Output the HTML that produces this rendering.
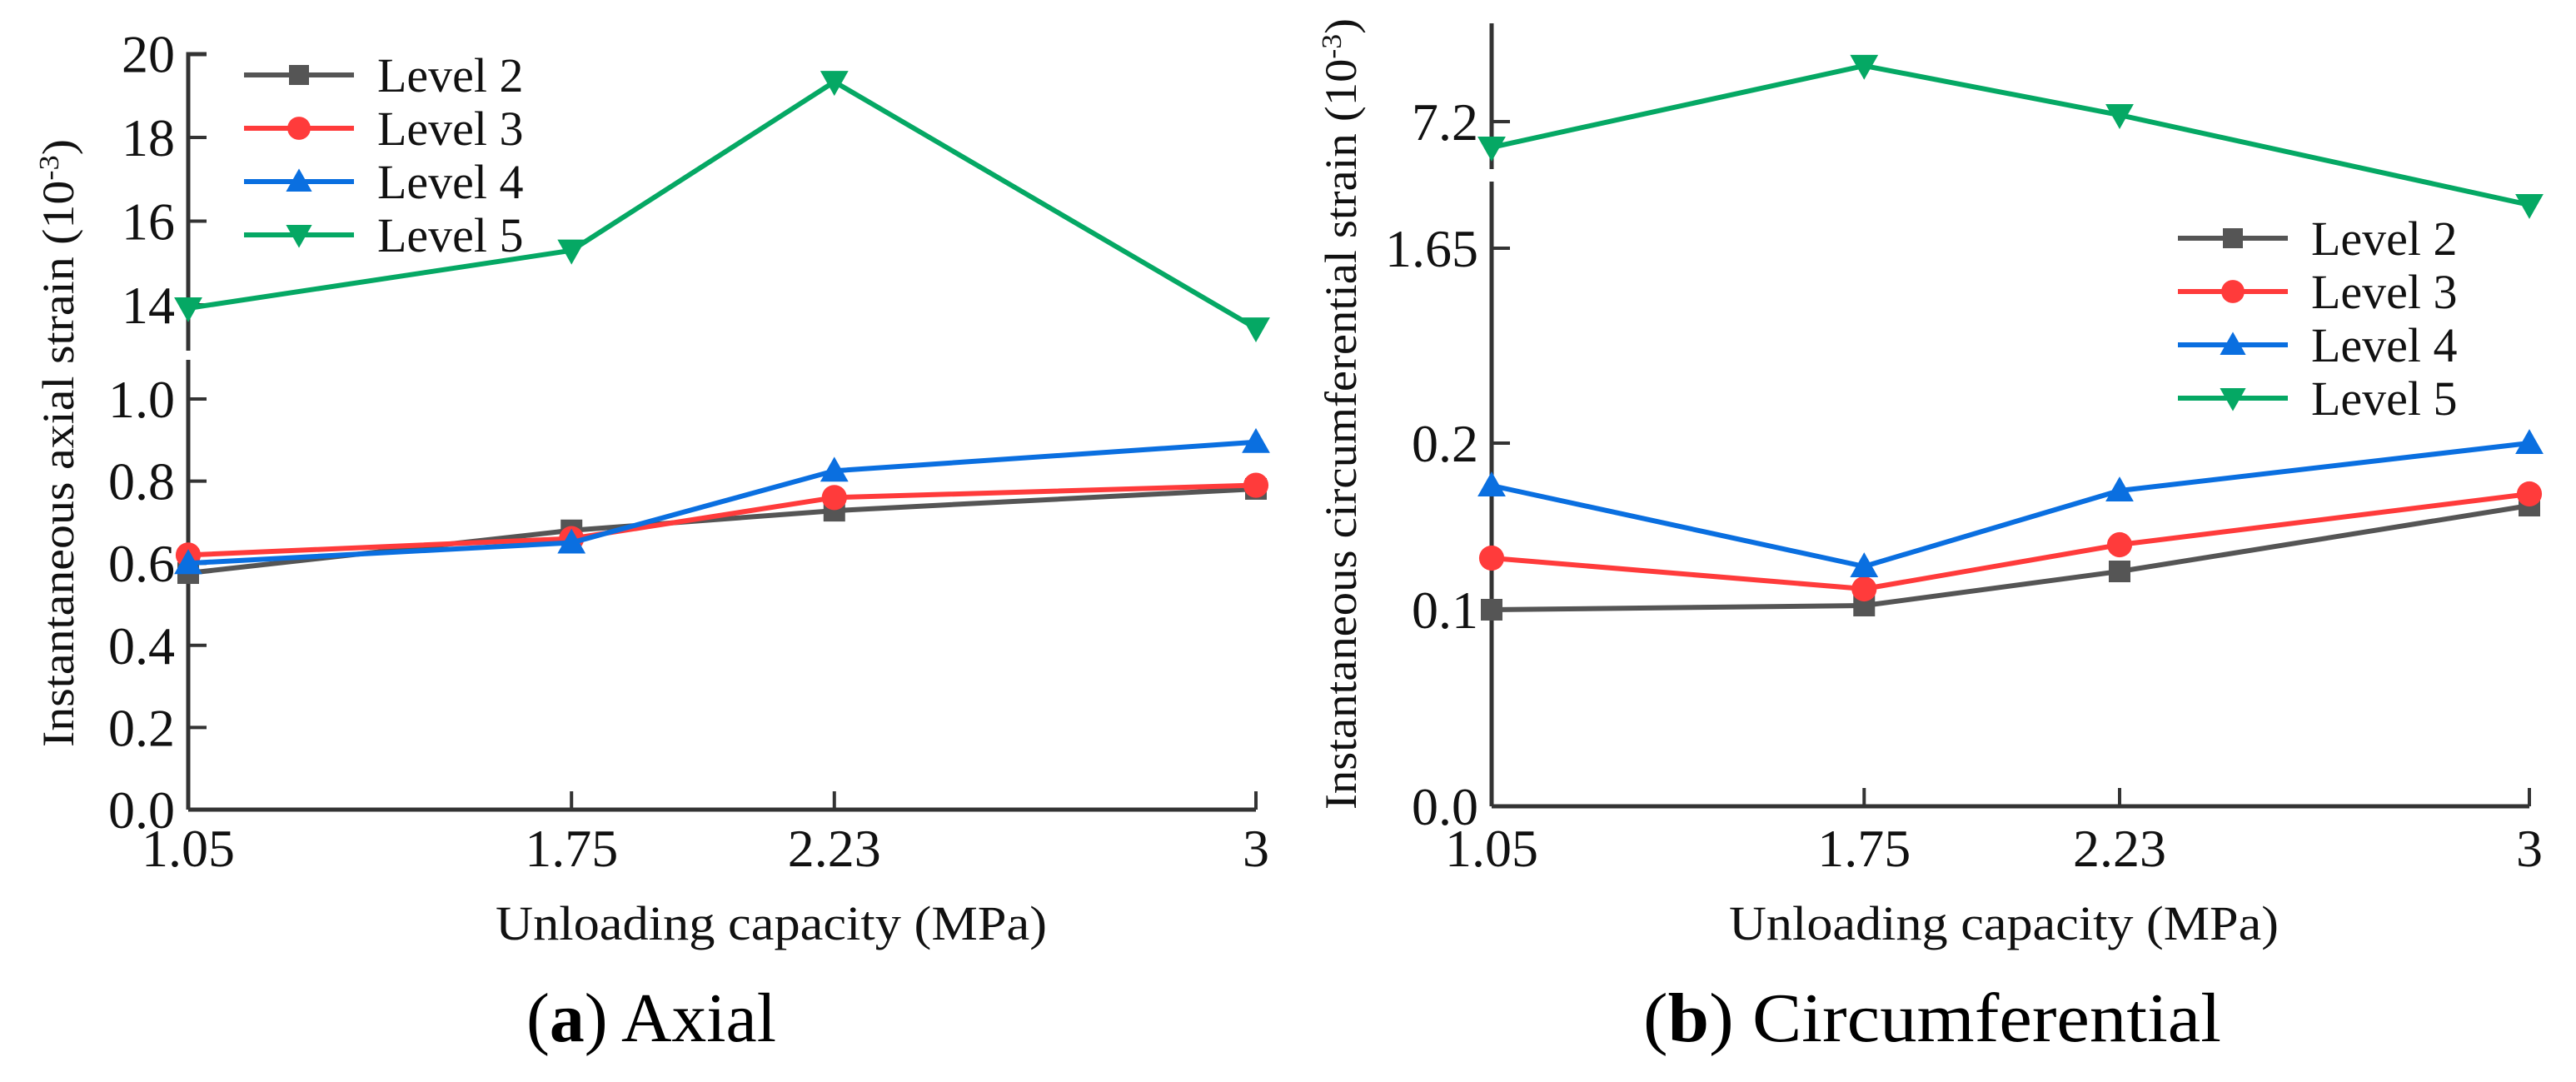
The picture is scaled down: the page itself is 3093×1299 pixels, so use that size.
<!DOCTYPE html>
<html><head><meta charset="utf-8"><style>
html,body{margin:0;padding:0;background:#fff;}
svg{display:block;font-family:"Liberation Serif",serif;}
text{font-family:"Liberation Serif",serif;}
</style></head><body>
<svg id="fig" width="3093" height="1299" viewBox="0 0 3093 1299" xmlns="http://www.w3.org/2000/svg">
<g id="chartA"></g>
<g id="chartB"></g>
<text x="782" y="1250" font-size="84" text-anchor="middle" textLength="300" lengthAdjust="spacingAndGlyphs">(<tspan font-weight="bold">a</tspan>) Axial</text>
<text x="2320" y="1250" font-size="84" text-anchor="middle" textLength="694" lengthAdjust="spacingAndGlyphs">(<tspan font-weight="bold">b</tspan>) Circumferential</text>
</svg>
<script>
const xCats = [1.05, 1.75, 2.23, 3];
const xTickLabels = ["1.05", "1.75", "2.23", "3"];
const seriesNames = ["Level 2", "Level 3", "Level 4", "Level 5"];
// Axial (a)
const axialL2 = [0.576, 0.68, 0.728, 0.781];
const axialL3 = [0.62, 0.66, 0.76, 0.79];
const axialL4 = [0.60, 0.65, 0.825, 0.895];
const axialL5 = [13.92, 15.3, 19.33, 13.44];
const axialTicks = [0.0, 0.2, 0.4, 0.6, 0.8, 1.0, 14, 16, 18, 20];
const axialTickLabels = ["0.0","0.2","0.4","0.6","0.8","1.0","14","16","18","20"];
// Circumferential (b)
const circL2 = [0.1, 0.1025, 0.123, 0.1625];
const circL3 = [0.131, 0.1125, 0.139, 0.1695];
const circL4 = [0.1745, 0.126, 0.1715, 0.2];
const circL5 = [6.07, 9.65, 7.49, 3.55];
const circTicks = [0.0, 0.1, 0.2, 1.65, 7.2];
const circTickLabels = ["0.0","0.1","0.2","1.65","7.2"];

const colors = ["#555555", "#ff3b3b", "#0a6fe0", "#05a864"];
const markers = ["square", "circle", "up", "down"];
const NS = "http://www.w3.org/2000/svg";
function mk(parent, tag, attrs) {
  const e = document.createElementNS(NS, tag);
  for (const k in attrs) e.setAttribute(k, attrs[k]);
  parent.appendChild(e);
  return e;
}
function xA(v) { return 226 + (v - 1.05) * (1508 - 226) / (3 - 1.05); }
function yA(v) {
  if (v <= 1.0) return 972 - v * 493;
  return 366 - (v - 14) * 50.25;
}
function xB(v) { return 1791 + (v - 1.05) * (3037 - 1791) / (3 - 1.05); }
const bKnots = [[0, 968], [0.1, 732], [0.2, 532], [1.65, 298], [7.2, 146]];
function yB(v) {
  for (let i = 0; i < bKnots.length - 1; i++) {
    const a = bKnots[i], b = bKnots[i + 1];
    if (v <= b[0] || i === bKnots.length - 2) return a[1] + (v - a[0]) * (b[1] - a[1]) / (b[0] - a[0]);
  }
}
function marker(g, type, cx, cy, color, s) {
  let el;
  if (type === "square") el = mk(g, "rect", {x: cx - s/2, y: cy - s/2, width: s, height: s, fill: color});
  else if (type === "circle") el = mk(g, "circle", {cx: cx, cy: cy, r: s*0.58, fill: color});
  else if (type === "up") el = mk(g, "polygon", {points: `${cx},${cy - s*0.65} ${cx - s*0.65},${cy + s*0.5} ${cx + s*0.65},${cy + s*0.5}`, fill: color});
  else el = mk(g, "polygon", {points: `${cx},${cy + s*0.65} ${cx - s*0.65},${cy - s*0.5} ${cx + s*0.65},${cy - s*0.5}`, fill: color});
  return el;
}
function drawChart(g, X, Y, series, ticks, tickLabels, cfg) {
  const axC = "#333";
  const ya = mk(g, "path", {d: cfg.yAxisPath, stroke: axC, "stroke-width": 5, fill: "none"});
  
  
  const xa = mk(g, "line", {x1: cfg.x0, y1: cfg.y0, x2: cfg.x1, y2: cfg.y0, stroke: axC, "stroke-width": 5});
  
  
  ticks.forEach((t, i) => {
    const y = Y(t);
    if (i > 0) mk(g, "line", {x1: cfg.x0, y1: y, x2: cfg.x0 + 22, y2: y, stroke: axC, "stroke-width": 4});
    const tx = mk(g, "text", {x: cfg.x0 - 16, y: y + 22, "font-size": 64, "text-anchor": "end", fill: "#111"});
    tx.textContent = tickLabels[i];
    
    
  });
  xCats.forEach((c, i) => {
    const x = X(c);
    if (i > 0) mk(g, "line", {x1: x, y1: cfg.y0, x2: x, y2: cfg.y0 - 22, stroke: axC, "stroke-width": 4});
    const tx = mk(g, "text", {x: x, y: 1040, "font-size": 64, "text-anchor": "middle", fill: "#111"});
    tx.textContent = xTickLabels[i];
    
    
  });
  series.forEach((vals, si) => {
    const sg = mk(g, "g", {});
    
    
    const pts = vals.map((v, i) => X(xCats[i]) + "," + Y(v)).join(" ");
    mk(sg, "polyline", {points: pts, fill: "none", stroke: colors[si], "stroke-width": 6, "stroke-linejoin": "round"});
    vals.forEach((v, i) => {
      const m = marker(sg, markers[si], X(xCats[i]), Y(v), colors[si], 26);
      
      
    });
  });
  const lg = mk(g, "g", {});
  
  
  seriesNames.forEach((n, i) => {
    const y = cfg.legY + i * cfg.legStep;
    const eg = mk(lg, "g", {});
    
    
    mk(eg, "line", {x1: cfg.legX, y1: y, x2: cfg.legX + 132, y2: y, stroke: colors[i], "stroke-width": 6});
    marker(eg, markers[i], cfg.legX + 66, y, colors[i], 24);
    const t = mk(eg, "text", {x: cfg.legX + 160, y: y + 20, "font-size": 58, fill: "#111"});
    t.textContent = n;
  });
  const xt = mk(g, "text", {x: cfg.xTitleX, y: 1128, "font-size": 58, "text-anchor": "middle", fill: "#111", textLength: cfg.xTitleW, lengthAdjust: "spacingAndGlyphs"});
  xt.textContent = "Unloading capacity (MPa)";
  
  
  const yt = mk(g, "text", {x: 0, y: 0, "font-size": 54, "text-anchor": "middle", fill: "#111", transform: `translate(${cfg.yTitleX},${cfg.yTitleY}) rotate(-90)`, textLength: cfg.yTitleW, lengthAdjust: "spacingAndGlyphs"});
  yt.innerHTML = cfg.yTitle + ' (10<tspan dy="-18" font-size="34">-3</tspan><tspan dy="18">)</tspan>';
  
  
}
drawChart(document.getElementById("chartA"), xA, yA, [axialL2, axialL3, axialL4, axialL5], axialTicks, axialTickLabels, {
  x0: 226, x1: 1508, y0: 972,
  yAxisPath: "M226,972 L226,432 M226,421 L226,65 L248,65",
  legX: 293, legY: 90, legStep: 64,
  xTitleX: 926, xTitleW: 662,
  yTitleX: 88, yTitleY: 532, yTitleW: 730, yTitle: "Instantaneous axial strain"
});
drawChart(document.getElementById("chartB"), xB, yB, [circL2, circL3, circL4, circL5], circTicks, circTickLabels, {
  x0: 1791, x1: 3037, y0: 968,
  yAxisPath: "M1791,968 L1791,218 M1791,203 L1791,28",
  legX: 2615, legY: 286, legStep: 64,
  xTitleX: 2406, xTitleW: 660,
  yTitleX: 1628, yTitleY: 497, yTitleW: 950, yTitle: "Instantaneous circumferential strain"
});
</script>
</body></html>
